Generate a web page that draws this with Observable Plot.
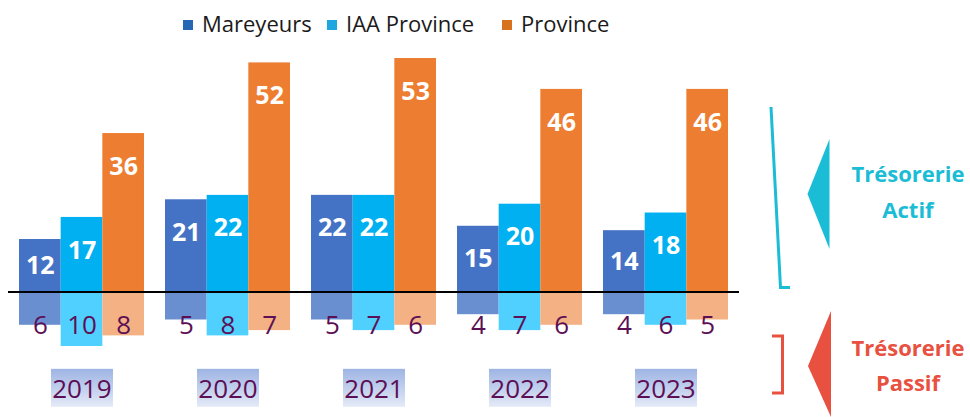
<!DOCTYPE html>
<html><head><meta charset="utf-8">
<script src="https://cdn.jsdelivr.net/npm/d3@7"></script>
<script src="https://cdn.jsdelivr.net/npm/@observablehq/plot@0.6"></script>
<style>
body{margin:0;background:#fff;font-family:"Open Sans",sans-serif;}
#wrap{position:relative;width:970px;height:417px;overflow:hidden;}
#legend{position:absolute;left:0;top:0;width:970px;height:45px;}
.li{position:absolute;top:8px;font-size:22px;color:#1a1a1a;line-height:30px;white-space:nowrap;}
.sw{display:inline-block;width:10px;height:10px;margin-right:9px;vertical-align:2px;}
#topChart{position:absolute;left:0;top:45px;}
#botChart{position:absolute;left:0;top:293px;}
#ann{position:absolute;left:0;top:0;}
</style></head>
<body><div id="wrap"><div id="legend"></div><div id="topChart"></div><div id="botChart"></div><svg id="ann" width="970" height="417"></svg></div>
<script>
const years = ["2019","2020","2021","2022","2023"];
const series = ["Mareyeurs","IAA Province","Province"];
const actif = {
  "Mareyeurs":    [12, 21, 22, 15, 14],
  "IAA Province": [17, 22, 22, 20, 18],
  "Province":     [36, 52, 53, 46, 46]
};
const passif = {
  "Mareyeurs":    [6, 5, 5, 4, 4],
  "IAA Province": [10, 8, 7, 7, 6],
  "Province":     [8, 7, 6, 6, 5]
};
const colorsActif = ["#4472C4","#00B0F0","#ED7D31"];
const colorsPassif = ["#6A8FD0","#4FD0FF","#F4B183"];
const legendColors = ["#2468B4","#1DA6E0","#D7731F"];

const rowsA = [], rowsP = [];
years.forEach((y,i)=>series.forEach(s=>{
  rowsA.push({year:y, series:s, v:actif[s][i]});
  rowsP.push({year:y, series:s, v:passif[s][i]});
}));

// legend
const legendX = [183, 327, 502];
const lg = document.getElementById("legend");
series.forEach((s,i)=>{
  const d = document.createElement("div");
  d.className="li"; d.style.left = legendX[i]+"px";
  d.innerHTML = `<span class="sw" style="background:${legendColors[i]}"></span>${s}`;
  lg.appendChild(d);
});

const fxOpt = {domain: years, paddingInner: 0.144, paddingOuter: 0, axis: null, round: false};
const common = {
  width: 970, marginLeft: 19, marginRight: 242,
  fx: fxOpt,
  x: {domain: series, padding: 0, axis: null, round: false},
  style: {fontFamily: "Open Sans, sans-serif", background: "transparent"}
};

const chartTop = Plot.plot({
  ...common,
  height: 248, marginTop: 13, marginBottom: 1,
  y: {domain: [0, 53], axis: null},
  color: {domain: series, range: colorsActif},
  marks: [
    Plot.barY(rowsA, {fx: "year", x: "series", y: "v", fill: "series"}),
    Plot.text(rowsA, {fx: "year", x: "series", y: d => Math.max(d.v/2, d.v - 7.5), text: "v",
      fill: "white", fontSize: 25, fontWeight: "bold"})
  ]
});
document.getElementById("topChart").appendChild(chartTop);

const chartBot = Plot.plot({
  ...common,
  height: 124, marginTop: 0, marginBottom: 0,
  y: {domain: [0, 10], range: [0, 53], axis: null},
  color: {domain: series, range: colorsPassif},
  marks: [
    Plot.barY(rowsP, {fx: "year", x: "series", y1: 0, y2: "v", fill: "series"}),
    Plot.text(rowsP, {fx: "year", x: "series", frameAnchor: "top", lineAnchor: "middle", dy: 32, text: "v",
      fill: "#5C0F55", fontSize: 26}),
    Plot.text(years, {fx: d => d, frameAnchor: "top", lineAnchor: "middle", dy: 96, text: d => d,
      fill: "#5C0F55", fontSize: 26})
  ]
});
document.getElementById("botChart").appendChild(chartBot);

// gradient boxes behind year labels
const bsel = d3.select(chartBot);
const defs = bsel.append("defs");
const grad = defs.append("linearGradient").attr("id","yg").attr("x1",0).attr("y1",0).attr("x2",0).attr("y2",1);
grad.append("stop").attr("offset","0%").attr("stop-color","#9EB4E3");
grad.append("stop").attr("offset","100%").attr("stop-color","#E4EAF7");
bsel.selectAll("text").filter(function(){ return years.includes(this.textContent); }).each(function(){
  const b = this.getBBox();
  const cx = b.x + b.width/2, cy = b.y + b.height/2;
  const r = document.createElementNS("http://www.w3.org/2000/svg","rect");
  r.setAttribute("x", cx - 31); r.setAttribute("y", cy - 19);
  r.setAttribute("width", 62); r.setAttribute("height", 38);
  r.setAttribute("fill", "url(#yg)");
  const t = this.getAttribute("transform"); if (t) r.setAttribute("transform", t);
  this.parentNode.insertBefore(r, this);
});

// baseline across the chart
d3.select(chartTop).append("line").attr("x1", 8).attr("x2", 739).attr("y1", 247).attr("y2", 247)
  .attr("stroke", "#000").attr("stroke-width", 2.2);

// annotations
const ann = d3.select("#ann");
const cyan = "#1BBCD6", red = "#E8503F";
ann.append("polyline").attr("points","771,107 780.5,287.5 790,287.5").attr("fill","none").attr("stroke",cyan).attr("stroke-width",3);
ann.append("polygon").attr("points","829.5,139 807.5,194 829.5,249").attr("fill",cyan);
ann.append("polyline").attr("points","772,336 782.5,336 782.5,393 772,393").attr("fill","none").attr("stroke",red).attr("stroke-width",3);
ann.append("polygon").attr("points","831,311 808,366 831,417").attr("fill",red);
[["Trésorerie",174,cyan],["Actif",210,cyan],["Trésorerie",348,red],["Passif",383,red]].forEach(([t,y,c])=>{
  ann.append("text").attr("x",908).attr("y",y).attr("dy","0.35em").attr("text-anchor","middle")
    .attr("font-size",22).attr("font-weight","bold").attr("fill",c).attr("font-family","Open Sans, sans-serif").text(t);
});
</script></body></html>
